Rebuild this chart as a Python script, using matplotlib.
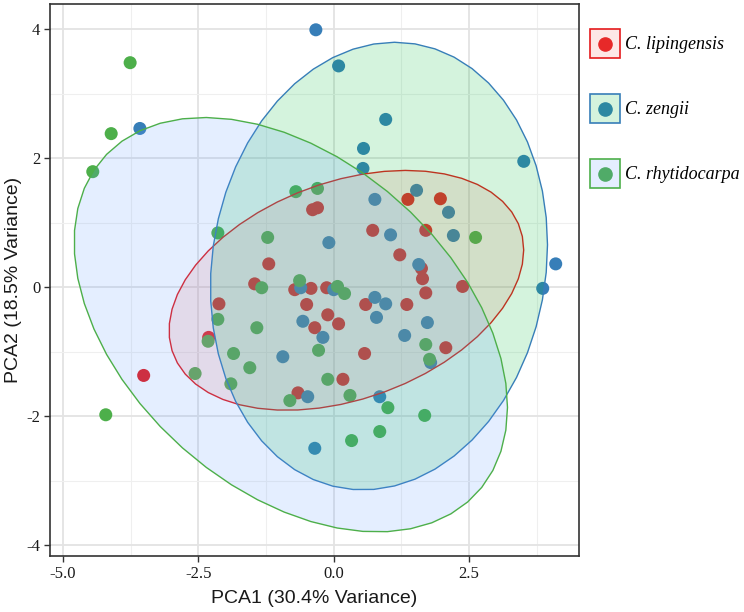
import numpy as np
import matplotlib
matplotlib.use("Agg")
import matplotlib.pyplot as plt
from matplotlib.patches import Polygon, Rectangle, Patch
from matplotlib.lines import Line2D
from matplotlib.legend_handler import HandlerBase
from matplotlib.ticker import FixedLocator

plt.rcParams['axes.unicode_minus'] = False

# ---------------- data ----------------
species = ["C. lipingensis", "C. zengii", "C. rhytidocarpa"]

lip_x = [-1.20, -1.46, -2.12, -0.39, -0.30, 1.37, 1.97, 1.70, 0.72, 1.22, 1.62, 1.64, 2.38,
         -0.72, -0.42, -0.13, 1.70, 0.59, 1.35, -0.50, -0.11, -0.35, 0.09, 0.57, 2.07, 0.17,
         -0.66, -2.31, -3.51]
lip_y = [0.36, 0.05, -0.26, 1.20, 1.23, 1.36, 1.37, 0.88, 0.88, 0.50, 0.29, 0.13, 0.01,
         -0.04, -0.02, -0.01, -0.09, -0.27, -0.27, -0.27, -0.43, -0.63, -0.57, -1.03, -0.94, -1.43,
         -1.64, -0.78, -1.37]

zen_x = [-3.58, -0.33, 0.09, 0.96, 0.55, 0.54, 3.51, 0.76, 1.53, 2.12, 2.21, 1.05, -0.09,
         1.57, 4.10, 3.86, -0.61, 0.00, 0.76, 0.96, 0.79, -0.57, 1.73, -0.20, 1.31, -0.94,
         1.79, -0.48, 0.85, -0.35]
zen_y = [2.46, 3.99, 3.43, 2.60, 2.15, 1.84, 1.95, 1.36, 1.50, 1.16, 0.80, 0.81, 0.69,
         0.35, 0.36, -0.02, -0.01, -0.04, -0.16, -0.26, -0.47, -0.53, -0.55, -0.78, -0.75, -1.08,
         -1.17, -1.70, -1.70, -2.50]

rhy_x = [-3.76, -4.11, -4.45, -2.14, -1.22, -0.70, -0.30, 2.62, -1.33, -0.63, 0.07, 0.20,
         -2.14, -1.42, -2.32, -1.85, -1.55, -2.56, -1.90, -0.81, -0.28, 1.70, 1.77, -0.11,
         0.30, 1.00, 1.68, 0.85, 0.33, -4.21]
rhy_y = [3.48, 2.38, 1.79, 0.84, 0.77, 1.48, 1.53, 0.77, -0.01, 0.10, 0.01, -0.10,
         -0.50, -0.63, -0.84, -1.03, -1.25, -1.34, -1.50, -1.76, -0.98, -0.89, -1.12, -1.43,
         -1.68, -1.87, -1.99, -2.24, -2.38, -1.98]

x_ticks = [-5.0, -2.5, 0.0, 2.5]
x_ticklabels = ["-5.0", "-2.5", "0.0", "2.5"]
y_ticks = [-4, -2, 0, 2, 4]
y_ticklabels = ["-4", "-2", "0", "2", "4"]

point_colors = ["#E41A1C", "#377EB8", "#4DAF4A"]
fill_colors = ["#F8766D", "#00BA38", "#619CFF"]
FILL_ALPHA = 0.17


# ------------- stat_ellipse (type = "t", level = 0.95) -------------
def cov_trob(X, nu=5, maxit=25, tol=0.01):
    n, p = X.shape
    wt = np.ones(n)
    loc = X.mean(axis=0)
    w = np.sqrt(wt)
    Xc = X - loc
    for _ in range(maxit):
        w0 = w
        Xc = X - loc
        _, d, Vt = np.linalg.svd(np.sqrt(w / w.sum())[:, None] * Xc, full_matrices=False)
        wX = Xc @ Vt.T @ np.diag(1.0 / d)
        Q = (wX ** 2).sum(axis=1)
        w = (wt * (nu + p)) / (nu + Q)
        loc = (w[:, None] * X).sum(axis=0) / w.sum()
        if np.all(np.abs(w - w0) < tol):
            break
    sw = np.sqrt(w)[:, None] * Xc
    cov = sw.T @ sw / wt.sum()
    return loc, cov


def ellipse_path(xs, ys, level=0.95, segments=51):
    X = np.column_stack([xs, ys])
    n = X.shape[0]
    loc, cov = cov_trob(X)
    dfd = n - 1
    qf = (dfd / 2.0) * ((1 - level) ** (-2.0 / dfd) - 1)   # F(2, dfd) quantile
    radius = np.sqrt(2 * qf)
    R = np.linalg.cholesky(cov).T
    ang = np.arange(segments + 1) * 2 * np.pi / segments
    circ = np.column_stack([np.cos(ang), np.sin(ang)])
    return loc + radius * (circ @ R)


groups = [(lip_x, lip_y), (zen_x, zen_y), (rhy_x, rhy_y)]

fig = plt.figure(figsize=(7.44, 6.12), dpi=100)
ax = fig.add_axes([50 / 744, 1 - 556 / 612, (579 - 50) / 744, (556 - 4) / 612])

# points (drawn beneath the translucent ellipses)
for (gx, gy), c in zip(groups, point_colors):
    ax.scatter(gx, gy, s=88, color=c, edgecolors='none', zorder=2)

# ellipses
for (gx, gy), c, fc in zip(groups, point_colors, fill_colors):
    path = ellipse_path(np.array(gx), np.array(gy))
    poly = Polygon(path, closed=True, facecolor=matplotlib.colors.to_rgba(fc, FILL_ALPHA),
                   edgecolor=c, linewidth=1.0, zorder=3)
    ax.add_patch(poly)

ax.set_xlim(-5.24, 4.53)
ax.set_ylim(-4.17, 4.39)

ax.xaxis.set_major_locator(FixedLocator(x_ticks))
ax.set_xticklabels(x_ticklabels)
ax.yaxis.set_major_locator(FixedLocator(y_ticks))
ax.set_yticklabels(y_ticklabels)
ax.xaxis.set_minor_locator(FixedLocator([-3.75, -1.25, 1.25, 3.75]))
ax.yaxis.set_minor_locator(FixedLocator([-3, -1, 1, 3]))

ax.grid(True, which='major', color='#E3E3E3', linewidth=1.3, zorder=0)
ax.grid(True, which='minor', color='#EFEFEF', linewidth=0.8, zorder=0)
ax.set_axisbelow(True)
ax.tick_params(which='minor', length=0)
ax.tick_params(which='major', length=4, width=1.0, color='#333333', pad=3,
               labelsize=12, labelcolor='#1a1a1a')
for lab in ax.get_xticklabels() + ax.get_yticklabels():
    lab.set_family('Liberation Serif')
for sp in ax.spines.values():
    sp.set_color('#333333')
    sp.set_linewidth(1.2)

ax.set_xlabel("PCA1 (30.4% Variance)", family='Liberation Sans', fontsize=14, color='#1a1a1a', labelpad=6)
ax.set_ylabel("PCA2 (18.5% Variance)", family='Liberation Sans', fontsize=14, color='#1a1a1a', labelpad=3)


# ---------------- legend ----------------
class KeyHandler(HandlerBase):
    def create_artists(self, legend, orig_handle, xdescent, ydescent, width, height, fontsize, trans):
        dot = Line2D([-xdescent + width / 2], [-ydescent + height / 2], marker='o', ms=9.5,
                     color=orig_handle.dotcolor, ls='', transform=trans)
        rect = Rectangle((-xdescent, -ydescent), width, height,
                         facecolor=orig_handle.get_facecolor(), edgecolor=orig_handle.get_edgecolor(),
                         linewidth=1.2, transform=trans)
        return [dot, rect]


handles = []
for c, fc in zip(point_colors, fill_colors):
    p = Patch(facecolor=matplotlib.colors.to_rgba(fc, FILL_ALPHA), edgecolor=c)
    p.dotcolor = c
    handles.append(p)

leg = fig.legend(handles, species, handler_map={Patch: KeyHandler()},
                 loc='upper left', bbox_to_anchor=(590 / 744, 1 - 29 / 612),
                 frameon=False, borderpad=0, borderaxespad=0,
                 handlelength=1.66, handleheight=2.1, handletextpad=0.3, labelspacing=1.99,
                 prop={'family': 'Liberation Serif', 'style': 'italic', 'size': 13})

fig.savefig("out.png", dpi=100)
